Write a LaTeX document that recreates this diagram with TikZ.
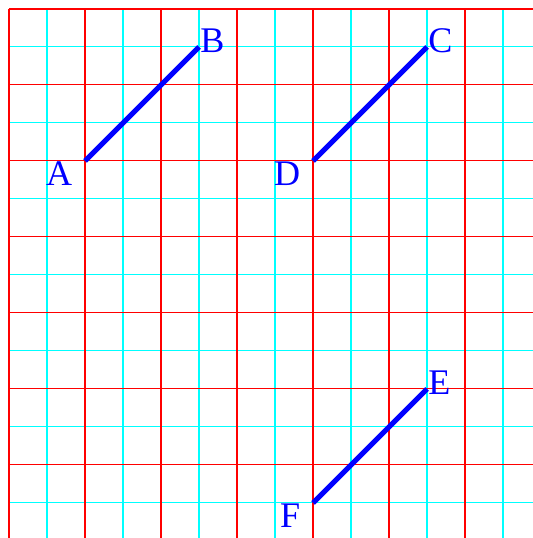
\documentclass[tikz,border=0pt]{standalone}
\usepackage{fontspec}
\setmainfont{Liberation Serif}
\definecolor{gridcyan}{RGB}{0,255,255}
\definecolor{gridred}{RGB}{255,0,0}
\tikzset{
minorgrid/.style={gridcyan,line width=.4pt},
majorgrid/.style={gridred,line width=.4pt},
segment/.style={blue,line width=1.9pt},
ptlabel/.style={blue,inner sep=0pt,font=\fontsize{13.5}{15}\selectfont},
lowlabel/.style={ptlabel,anchor=north east,xshift=-.16cm},
highlabel/.style={ptlabel,anchor=south west,xshift=.01cm,yshift=-.08cm}
}
\begin{document}
\begin{tikzpicture}
\clip(-.118,.039)rectangle(6.895,7.118);
\draw[minorgrid,step=.5](0,0)grid(7,7);
\draw[majorgrid,step=1](0,0)grid(7,7);
\coordinate(A)at(1,5);\coordinate(B)at(2.5,6.5);
\coordinate(D)at(4,5);\coordinate(C)at(5.5,6.5);
\coordinate(F)at(4,.5);\coordinate(E)at(5.5,2);
\draw[segment](A)--(B);\draw[segment](D)--(C);\draw[segment](F)--(E);
\node[lowlabel](la)at(A){A};\node[highlabel](lb)at(B){B};
\node[lowlabel](ld)at(D){D};\node[highlabel](lc)at(C){C};
\node[lowlabel](lf)at(F){F};\node[highlabel](le)at(E){E};
\end{tikzpicture}
\end{document}
